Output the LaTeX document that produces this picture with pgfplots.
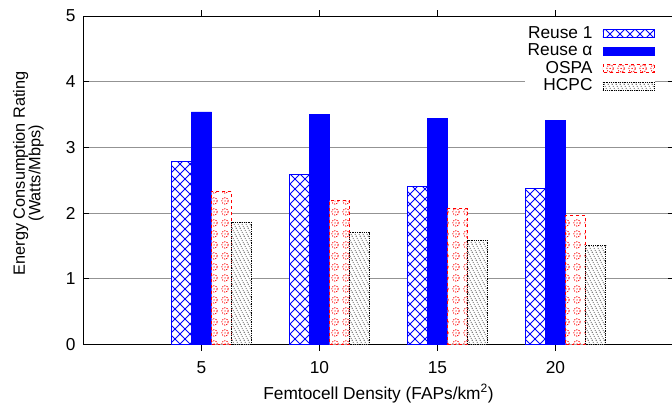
\documentclass[border=0pt]{standalone}
\usepackage{fontspec}
\setmainfont{Liberation Sans}
\usepackage{pgfplots}
\pgfplotsset{compat=1.18}
\usetikzlibrary{patterns}
\newcommand\F{\fontsize{17.3bp}{19bp}\selectfont}
\pgfplotsset{mylegend/.style={legend image code/.code={\draw[##1] (0bp,-4bp) rectangle (51bp,4bp);}}}
\pgfdeclarepatternformonly{diagx}{\pgfqpoint{-0.5bp}{-0.5bp}}{\pgfqpoint{10.5bp}{10.5bp}}{\pgfqpoint{10bp}{10bp}}{%
 \pgfsetlinewidth{0.9bp}%
 \pgfpathmoveto{\pgfqpoint{0bp}{0bp}}\pgfpathlineto{\pgfqpoint{10bp}{10bp}}%
 \pgfpathmoveto{\pgfqpoint{0bp}{10bp}}\pgfpathlineto{\pgfqpoint{10bp}{0bp}}%
 \pgfusepath{stroke}}
\pgfdeclarepatternformonly{ospa}{\pgfqpoint{0bp}{0bp}}{\pgfqpoint{11bp}{11bp}}{\pgfqpoint{11bp}{11bp}}{%
 \pgfsetlinewidth{0.9bp}%
 \pgfsetdash{{1.2bp}{1.3bp}}{0bp}%
 \pgfpathcircle{\pgfqpoint{5.5bp}{5.5bp}}{3.5bp}%
 \pgfusepath{stroke}%
 \pgfsetdash{}{0bp}%
 \pgfpathcircle{\pgfqpoint{5.5bp}{5.5bp}}{0.7bp}%
 \pgfusepath{fill}}
\pgfdeclarepatternformonly{hcpc}{\pgfqpoint{-0.5bp}{-0.5bp}}{\pgfqpoint{4.5bp}{8.5bp}}{\pgfqpoint{4bp}{8bp}}{%
 \pgfsetlinewidth{0.6bp}%
 \pgfsetdash{{0.8bp}{1.4bp}}{0bp}%
 \pgfpathmoveto{\pgfqpoint{0bp}{8bp}}\pgfpathlineto{\pgfqpoint{4bp}{0bp}}%
 \pgfusepath{stroke}}
\begin{document}
\F
\begin{tikzpicture}[font=\F]
\begin{axis}[
  scale only axis,
  width=590bp, height=328.5bp,
  xmin=0, xmax=25, ymin=0, ymax=5,
  xtick={5,10,15,20}, ytick={0,1,2,3,4,5},
  tick align=inside, major tick length=6bp,
  tick style={black, line width=0.8bp},
  axis line style={black, line width=0.9bp},
  ymajorgrids, grid style={gray!85, line width=0.9bp},
  /pgf/number format/assume math mode=true,
  tick label style={font=\F},
  xticklabel style={yshift=-5bp},
  yticklabel style={xshift=-2bp},
  xlabel={Femtocell Density (FAPs/km\textsuperscript{2})},
  every axis x label/.style={at={(rel axis cs:0.5,0)}, anchor=north, yshift=-34bp, font=\F},
  ylabel={Energy Consumption Rating\\(Watts/Mbps)},
  every axis y label/.style={at={(rel axis cs:0,0.5)}, rotate=90, anchor=center, xshift=7bp, yshift=55bp, align=center, font=\fontsize{16.3bp}{15.5bp}\selectfont},
  ybar, bar width=0.85,
  legend cell align=right, legend plot pos=right,
  legend style={draw=none, fill=white, font=\F, nodes={font=\F}, at={(rel axis cs:1,1)}, anchor=north east,
    xshift=-18bp, yshift=-7bp, inner sep=1bp, row sep=-1bp,
    /tikz/every odd column/.style={column sep=8bp}},
]
\addplot[bar shift=-0.85, draw=blue, line width=0.8bp, preaction={fill=white}, pattern=diagx, pattern color=blue, mylegend]
  coordinates {(5,2.79) (10,2.59) (15,2.41) (20,2.38)};
\addlegendentry{Reuse 1}
\addplot[bar shift=0, draw=blue, fill=blue, line width=0.8bp, mylegend]
  coordinates {(5,3.54) (10,3.50) (15,3.44) (20,3.41)};
\addlegendentry{Reuse α}
\addplot[bar shift=0.85, draw=red, dashed, line width=0.8bp, preaction={fill=white}, pattern=ospa, pattern color=red, mylegend]
  coordinates {(5,2.33) (10,2.19) (15,2.07) (20,1.96)};
\addlegendentry{OSPA}
\addplot[bar shift=1.7, draw=black, densely dotted, line width=0.8bp, preaction={fill=white}, pattern=hcpc, pattern color=black, mylegend]
  coordinates {(5,1.86) (10,1.70) (15,1.58) (20,1.51)};
\addlegendentry{HCPC}
\end{axis}
\pgfresetboundingbox
\useasboundingbox (-83.5bp,-59.5bp) rectangle (588.5bp,344.5bp);
\end{tikzpicture}
\end{document}
